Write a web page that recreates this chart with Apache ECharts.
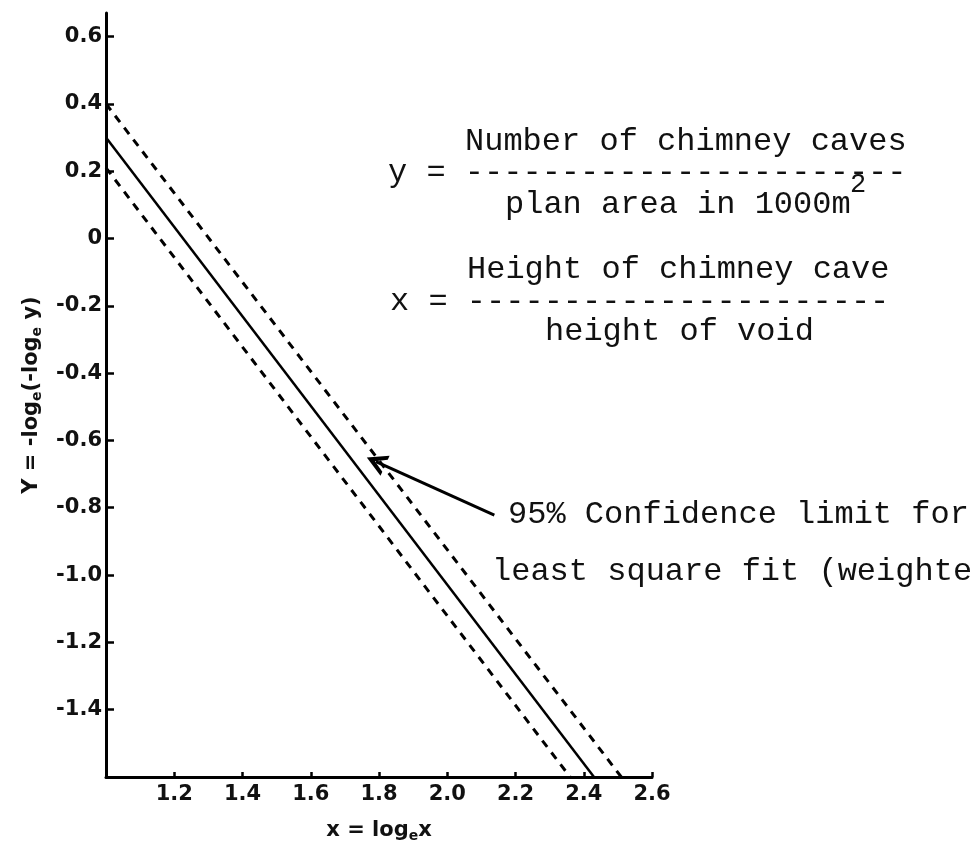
<!DOCTYPE html>
<html>
<head>
<meta charset="utf-8">
<script src="https://cdn.jsdelivr.net/npm/echarts@6/dist/echarts.min.js"></script>
<style>
  html, body { margin: 0; padding: 0; background: #fff; }
  #main { width: 970px; height: 842px; }
</style>
</head>
<body>
<div id="main"></div>
<script>
// line end points (x = log_e x, Y = -log_e(-log_e y))
var fitX = [1.0, 2.43];
var fitY = [0.30, -1.60];
var upperX = [1.0, 2.51];
var upperY = [0.40, -1.60];
var lowerX = [1.0, 2.36];
var lowerY = [0.21, -1.60];

// tick labels
var xTicks = [1.2, 1.4, 1.6, 1.8, 2.0, 2.2, 2.4, 2.6];
var yTicks = [-1.4, -1.2, -1.0, -0.8, -0.6, -0.4, -0.2, 0, 0.2, 0.4, 0.6];

// arrow from the note to the upper limit line
var arrowFrom = [2.138, -0.822];
var arrowTo = [1.791, -0.663];

function pairs(xs, ys) {
  return xs.map(function (x, i) { return [x, ys[i]]; });
}

var myChart = echarts.init(document.getElementById('main'));

var handFont = { fontFamily: 'DejaVu Sans', fontWeight: 'bold', fontSize: 21, color: '#111' };
var subStyle = { fontFamily: 'DejaVu Sans', fontWeight: 'bold', fontSize: 14, color: '#111', verticalAlign: 'bottom', padding: [10, 0, 0, 0] };
var mono = 'Liberation Mono';

// open V head, tip at the top like the built-in arrow
var openArrow = 'path://M10,0 L20,18 L16,18 L10,8 L4,18 L0,18 Z';

var option = {
  animation: false,
  backgroundColor: '#fff',
  grid: { left: 106, right: 318, top: 13, bottom: 65, outerBoundsMode: 'none' },
  xAxis: {
    type: 'value',
    min: 1.0,
    max: 2.6,
    interval: 0.2,
    name: 'x = log{sub|e}x',
    nameLocation: 'middle',
    nameGap: 42,
    nameTextStyle: Object.assign({ rich: { sub: subStyle } }, handFont),
    axisLine: { onZero: false, lineStyle: { color: '#000', width: 3 } },
    axisTick: { inside: true, length: 5, customValues: xTicks, lineStyle: { color: '#000', width: 2.5 } },
    axisLabel: Object.assign({ margin: 7, customValues: xTicks, formatter: function (v) { return v.toFixed(1); } }, handFont),
    splitLine: { show: false }
  },
  yAxis: {
    type: 'value',
    min: -1.6,
    max: 0.67,
    interval: 0.2,
    name: 'Y = -log{sub|e}(-log{sub|e} y)',
    nameLocation: 'middle',
    nameGap: 62,
    nameTextStyle: Object.assign({ rich: { sub: subStyle } }, handFont),
    axisLine: { onZero: false, lineStyle: { color: '#000', width: 3 } },
    axisTick: { inside: true, length: 8, customValues: yTicks, lineStyle: { color: '#000', width: 2.5 } },
    axisLabel: Object.assign({ margin: 4, customValues: yTicks, formatter: function (v) { return v === 0 ? '0' : v.toFixed(1); } }, handFont),
    splitLine: { show: false }
  },
  series: [
    {
      name: 'fit',
      type: 'line',
      data: pairs(fitX, fitY),
      symbol: 'none',
      lineStyle: { color: '#000', width: 2.5 }
    },
    {
      name: 'upper',
      type: 'line',
      data: pairs(upperX, upperY),
      symbol: 'none',
      lineStyle: { color: '#000', width: 3, type: [8, 7] },
      markLine: {
        silent: true,
        symbol: ['none', openArrow],
        symbolSize: [22, 20],
        label: { show: false },
        lineStyle: { color: '#000', width: 3, type: 'solid' },
        data: [[{ coord: arrowFrom }, { coord: arrowTo }]]
      }
    },
    {
      name: 'lower',
      type: 'line',
      data: pairs(lowerX, lowerY),
      symbol: 'none',
      lineStyle: { color: '#000', width: 3, type: [8, 7] }
    }
  ],
  graphic: [
    { type: 'text', style: { text: 'Number of chimney caves', x: 465, y: 142, fontFamily: mono, fontSize: 32, fill: '#111', verticalAlign: 'middle' } },
    { type: 'text', style: { text: 'y = -----------------------', x: 388, y: 173, fontFamily: mono, fontSize: 32, fill: '#111', verticalAlign: 'middle' } },
    { type: 'text', style: { text: 'plan area in 1000m', x: 505, y: 205, fontFamily: mono, fontSize: 32, fill: '#111', verticalAlign: 'middle' } },
    { type: 'text', style: { text: '2', x: 850, y: 185, fontFamily: mono, fontSize: 27, fill: '#111', verticalAlign: 'middle' } },
    { type: 'text', style: { text: 'Height of chimney cave', x: 467, y: 270, fontFamily: mono, fontSize: 32, fill: '#111', verticalAlign: 'middle' } },
    { type: 'text', style: { text: 'x = ----------------------', x: 390, y: 302, fontFamily: mono, fontSize: 32, fill: '#111', verticalAlign: 'middle' } },
    { type: 'text', style: { text: 'height of void', x: 545, y: 332, fontFamily: mono, fontSize: 32, fill: '#111', verticalAlign: 'middle' } },
    { type: 'text', style: { text: '95% Confidence limit for', x: 508, y: 515, fontFamily: mono, fontSize: 32, fill: '#111', verticalAlign: 'middle' } },
    { type: 'text', style: { text: 'least square fit (weighted)', x: 492, y: 572, fontFamily: mono, fontSize: 32, fill: '#111', verticalAlign: 'middle' } }
  ]
};

myChart.setOption(option);
</script>
</body>
</html>
